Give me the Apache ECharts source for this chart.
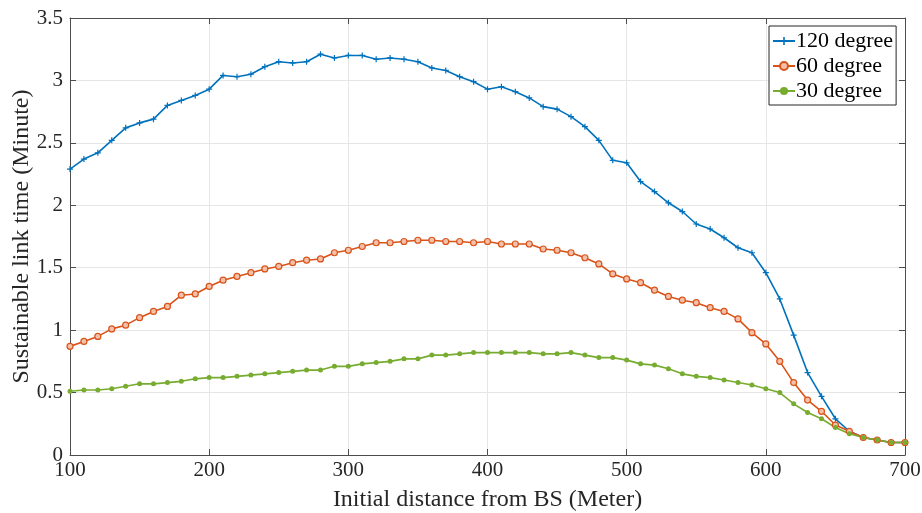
<!DOCTYPE html>
<html><head><meta charset="utf-8">
<script src="https://cdn.jsdelivr.net/npm/echarts@6/dist/echarts.min.js"></script>
<style>html,body{margin:0;padding:0;background:#fff}#c{width:922px;height:513px}</style>
</head><body><div id="c"></div>
<script>
const distances = [100,110,120,130,140,150,160,170,180,190,200,210,220,230,240,250,260,270,280,290,300,310,320,330,340,350,360,370,380,390,400,410,420,430,440,450,460,470,480,490,500,510,520,530,540,550,560,570,580,590,600,610,620,630,640,650,660,670,680,690,700];
const deg120 = [2.29,2.37,2.42,2.52,2.62,2.66,2.69,2.80,2.84,2.88,2.93,3.04,3.03,3.05,3.11,3.15,3.14,3.15,3.21,3.18,3.20,3.20,3.17,3.18,3.17,3.15,3.10,3.08,3.03,2.99,2.93,2.95,2.91,2.86,2.79,2.77,2.71,2.63,2.52,2.36,2.34,2.19,2.11,2.02,1.95,1.85,1.81,1.74,1.66,1.62,1.46,1.25,0.96,0.66,0.47,0.29,0.19,0.14,0.12,0.10,0.10];
const deg60 = [0.87,0.91,0.95,1.01,1.04,1.10,1.15,1.19,1.28,1.29,1.35,1.40,1.43,1.46,1.49,1.51,1.54,1.56,1.57,1.62,1.64,1.67,1.70,1.70,1.71,1.72,1.72,1.71,1.71,1.70,1.71,1.69,1.69,1.69,1.65,1.64,1.62,1.58,1.53,1.45,1.41,1.38,1.32,1.27,1.24,1.22,1.18,1.15,1.09,0.98,0.89,0.75,0.58,0.44,0.35,0.24,0.19,0.14,0.12,0.10,0.10];
const deg30 = [0.51,0.52,0.52,0.53,0.55,0.57,0.57,0.58,0.59,0.61,0.62,0.62,0.63,0.64,0.65,0.66,0.67,0.68,0.68,0.71,0.71,0.73,0.74,0.75,0.77,0.77,0.80,0.80,0.81,0.82,0.82,0.82,0.82,0.82,0.81,0.81,0.82,0.80,0.78,0.78,0.76,0.73,0.72,0.69,0.65,0.63,0.62,0.60,0.58,0.56,0.53,0.50,0.41,0.34,0.29,0.22,0.17,0.14,0.12,0.10,0.10];
const seriesNames = ['120 degree','60 degree','30 degree'];
const xTicks = {min:100, max:700, interval:100};
const yTicks = {min:0, max:3.5, interval:0.5};

const pair = arr => distances.map((d,i)=>[d,arr[i]]);
const font = 'Liberation Serif, Times New Roman, serif';
const axisColor = '#4d4d4d';
const plus = 'path://M4,0 L6,0 L6,4 L10,4 L10,6 L6,6 L6,10 L4,10 L4,6 L0,6 L0,4 L4,4 Z';

const chart = echarts.init(document.getElementById('c'), null, {renderer:'canvas'});
chart.setOption({
  animation:false,
  backgroundColor:'#fff',
  textStyle:{fontFamily:font},
  grid:{left:70, right:17, top:18, bottom:58, containLabel:false, outerBoundsMode:'none'},
  legend:{
    orient:'vertical', left:769, top:26,
    padding:[4,3,3,3], itemGap:3, itemWidth:22, itemHeight:10,
    borderColor:'#262626', borderWidth:1, backgroundColor:'#fff',
    textStyle:{fontFamily:font, fontSize:22, color:'#000', padding:[0,0,0,-4]},
    data:seriesNames
  },
  xAxis:[{
    type:'value', min:xTicks.min, max:xTicks.max, interval:xTicks.interval,
    name:'Initial distance from BS (Meter)', nameLocation:'middle', nameGap:33, nameMoveOverlap:false,
    nameTextStyle:{fontFamily:font, fontSize:24, color:'#262626'},
    axisLine:{onZero:false, lineStyle:{color:axisColor}},
    axisTick:{inside:true, length:6, lineStyle:{color:axisColor}},
    axisLabel:{fontFamily:font, fontSize:21, color:'#262626', margin:5},
    splitLine:{show:true, lineStyle:{color:'#e6e6e6'}}
  },{
    type:'value', position:'top', min:xTicks.min, max:xTicks.max, interval:xTicks.interval,
    axisLine:{onZero:false, lineStyle:{color:axisColor}},
    axisTick:{inside:true, length:6, lineStyle:{color:axisColor}},
    axisLabel:{show:false}, splitLine:{show:false}
  }],
  yAxis:[{
    type:'value', min:yTicks.min, max:yTicks.max, interval:yTicks.interval,
    name:'Sustainable link time (Minute)', nameLocation:'middle', nameGap:36, nameMoveOverlap:false,
    nameTextStyle:{fontFamily:font, fontSize:24, color:'#262626'},
    axisLine:{show:true, onZero:false, lineStyle:{color:axisColor}},
    axisTick:{show:true, inside:true, length:6, lineStyle:{color:axisColor}},
    axisLabel:{fontFamily:font, fontSize:21, color:'#262626', margin:7},
    splitLine:{show:true, lineStyle:{color:'#e6e6e6'}}
  },{
    type:'value', position:'right', min:yTicks.min, max:yTicks.max, interval:yTicks.interval,
    axisLine:{show:true, onZero:false, lineStyle:{color:axisColor}},
    axisTick:{show:true, inside:true, length:6, lineStyle:{color:axisColor}},
    axisLabel:{show:false}, splitLine:{show:false}
  }],
  series:[
    {name:seriesNames[0], type:'line', data:pair(deg120), color:'#0072BD',
     symbol:plus, symbolSize:6, showAllSymbol:true,
     lineStyle:{width:1.6, color:'#0072BD'}, itemStyle:{color:'#0072BD'}},
    {name:seriesNames[1], type:'line', data:pair(deg60), color:'#D95319',
     symbol:'circle', symbolSize:6, showAllSymbol:true,
     lineStyle:{width:1.6, color:'#D95319'}, itemStyle:{color:'#f3c1a9', borderColor:'#D95319', borderWidth:1.2}},
    {name:seriesNames[2], type:'line', data:pair(deg30), color:'#77AC30',
     symbol:'circle', symbolSize:5, showAllSymbol:true,
     lineStyle:{width:1.6, color:'#77AC30'}, itemStyle:{color:'#77AC30'}}
  ]
});
</script></body></html>
